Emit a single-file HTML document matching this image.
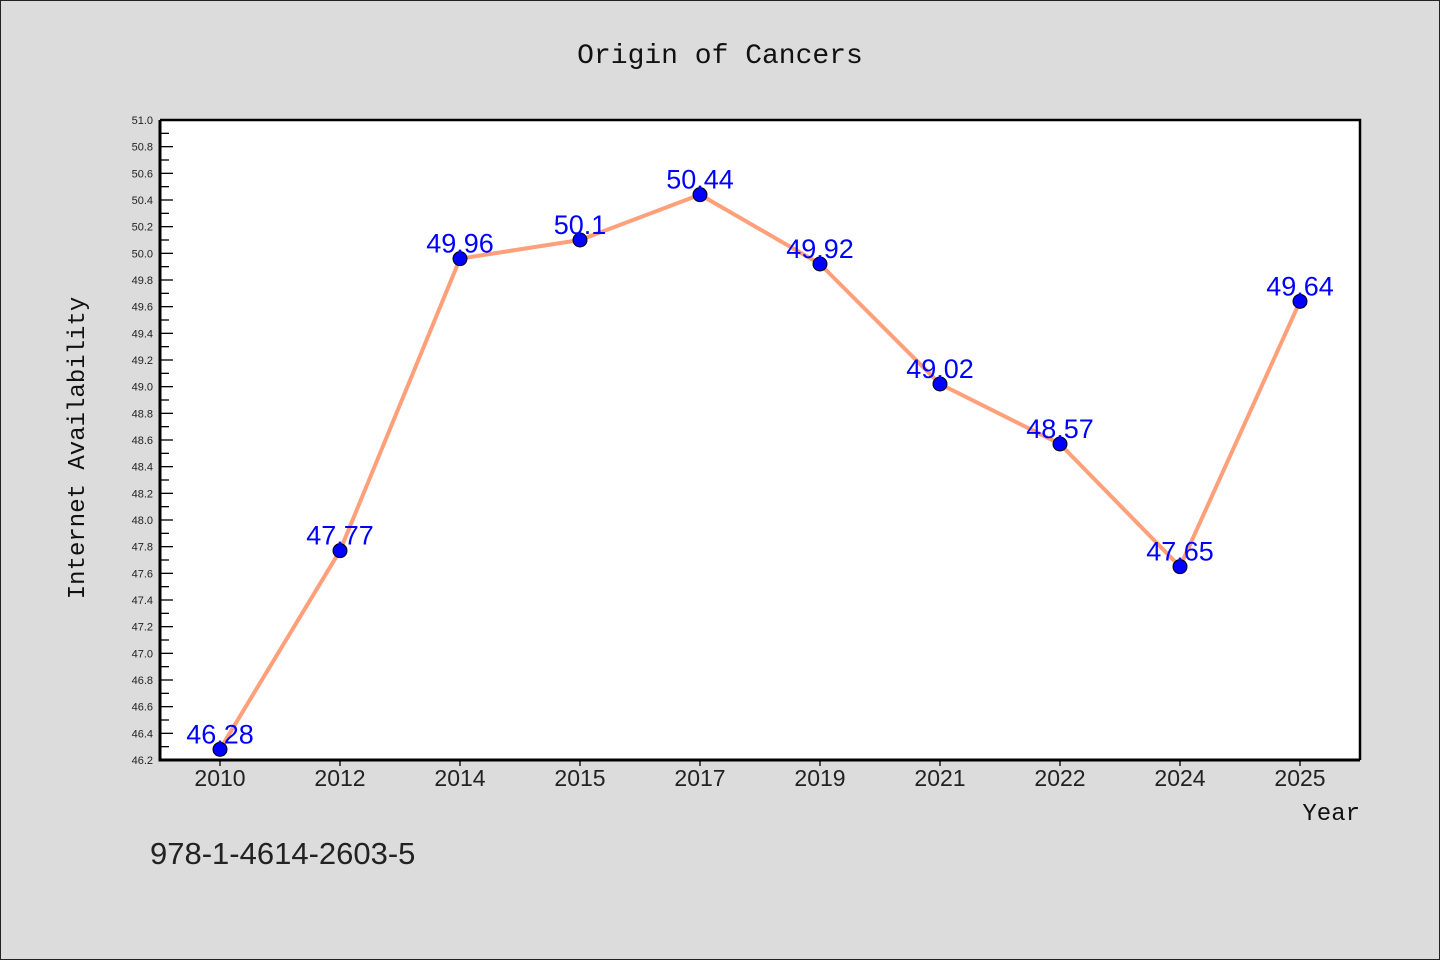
<!DOCTYPE html>
<html><head><meta charset="utf-8"><style>
body{margin:0;background:#dcdcdc;}
svg{display:block;font-family:"Liberation Sans","DejaVu Sans",sans-serif;}
</style></head><body>
<svg id="c" width="1440" height="960">
<rect x="0.5" y="0.5" width="1439" height="959" fill="#dcdcdc" stroke="#222"/>
<rect x="160" y="120" width="1200" height="640" fill="#fff"/>
<text x="720" y="63" text-anchor="middle" font-size="28" font-family="'Liberation Mono',monospace" fill="#111">Origin of Cancers</text>
<text transform="translate(84,448) rotate(-90)" text-anchor="middle" font-size="24" font-family="'Liberation Mono',monospace" fill="#111">Internet Availability</text>
<text x="1360" y="820" text-anchor="end" font-size="24" font-family="'Liberation Mono',monospace" fill="#111">Year</text>
<text x="150" y="864" font-size="31" fill="#222">978-1-4614-2603-5</text>
<g id="ticks"></g>
<g id="series"></g>
<path d="M160 120V760H1360" fill="none" stroke="#000" stroke-width="3"/>
<path d="M160 120H1360V760" fill="none" stroke="#000" stroke-width="2.5"/>
</svg>
<script>
const categories=["2010","2012","2014","2015","2017","2019","2021","2022","2024","2025"];
const values=[46.28,47.77,49.96,50.1,50.44,49.92,49.02,48.57,47.65,49.64];
const valueLabels=["46.28","47.77","49.96","50.1","50.44","49.92","49.02","48.57","47.65","49.64"];
const yMin=46.2, yMax=51.0;
const NS="http://www.w3.org/2000/svg";
const L=160,R=1360,T=120,B=760;
function x(i){return L+(R-L)/categories.length*(i+0.5);}
function y(v){return B-(v-yMin)/(yMax-yMin)*(B-T);}
function mk(t,a,p){const e=document.createElementNS(NS,t);for(const k in a)e.setAttribute(k,a[k]);p.appendChild(e);return e;}
const tg=document.getElementById('ticks');
for(let k=0;k<=48;k++){
  const v=yMin+k*0.1, yy=y(v), major=k%2===0;
  const tk=mk('line',{x1:L,x2:L+(major?13:9),y1:yy,y2:yy,stroke:'#000','stroke-width':1.3},tg);
  
  
  if(major){
    const t=mk('text',{x:L-7,y:yy+4,'text-anchor':'end','font-size':11,fill:'#222'},tg);
    t.textContent=v.toFixed(1);
    
    
  }
}
categories.forEach((c,i)=>{
  const tk=mk('line',{x1:x(i),x2:x(i),y1:B,y2:B+6,stroke:'#000','stroke-width':1.3},tg);
  
  
  const t=mk('text',{x:x(i),y:B+26,'text-anchor':'middle','font-size':23,fill:'#222'},tg);
  t.textContent=c;
  
  
});
const sg=document.getElementById('series');
const line=mk('polyline',{points:values.map((v,i)=>x(i)+','+y(v)).join(' '),fill:'none',stroke:'#ffa07a','stroke-width':4,'stroke-linejoin':'round'},sg);


values.forEach((v,i)=>{
  const p=mk('circle',{cx:x(i),cy:y(v),r:7,fill:'#0000ff',stroke:'#000','stroke-width':1},sg);
  
  
  const t=mk('text',{x:x(i),y:y(v)-6,'text-anchor':'middle','font-size':27,fill:'#0000ff'},sg);
  t.textContent=valueLabels[i];
  
  
});
</script>
</body></html>
